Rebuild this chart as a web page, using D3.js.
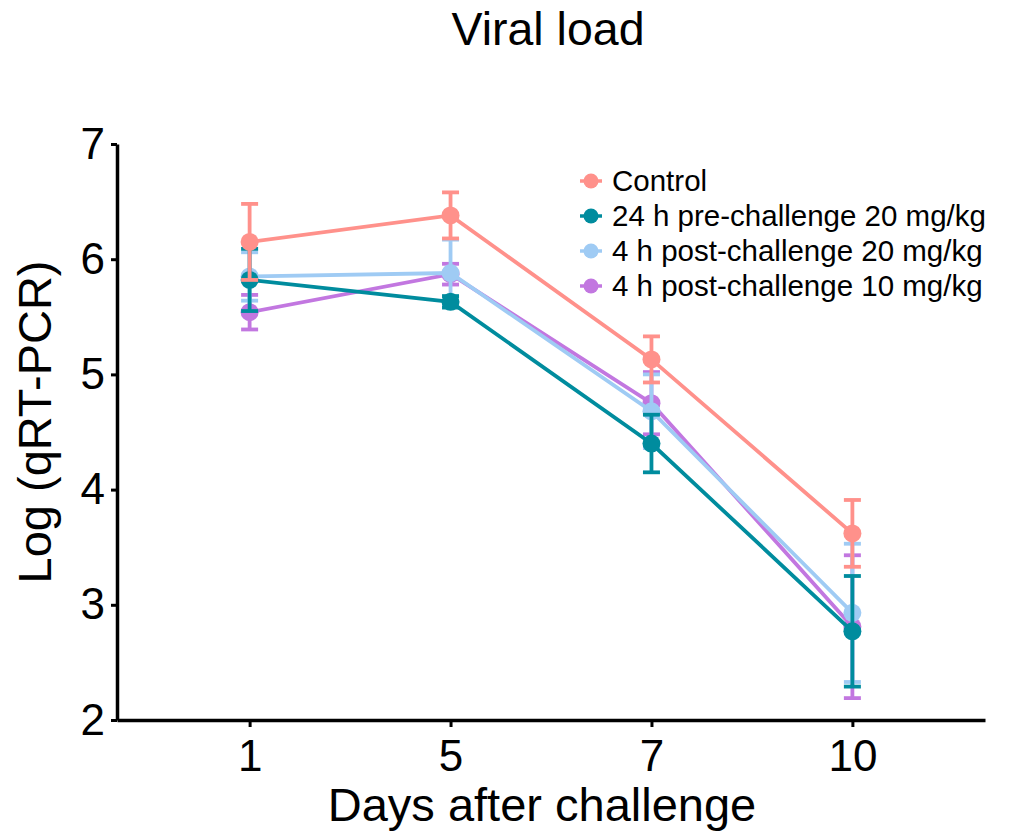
<!DOCTYPE html>
<html>
<head>
<meta charset="utf-8">
<script src="https://cdn.jsdelivr.net/npm/d3@7"></script>
<style>
  body { margin: 0; background: #fff; }
  text { font-family: "Liberation Sans", Arial, Helvetica, sans-serif; fill: #000; }
</style>
</head>
<body>
<script>
// data
const days = ["1", "5", "7", "10"];
const seriesNames = ["Control", "24 h pre-challenge 20 mg/kg", "4 h post-challenge 20 mg/kg", "4 h post-challenge 10 mg/kg"];
const seriesColors = ["#ff918b", "#008c9e", "#9fcbf4", "#c277e0"];
const controlMean = [6.15, 6.38, 5.13, 3.62];
const controlErr = [0.33, 0.2, 0.2, 0.29];
const pre20Mean = [5.82, 5.63, 4.40, 2.77];
const pre20Err = [0.27, 0.05, 0.25, 0.48];
const post20Mean = [5.85, 5.88, 4.68, 2.93];
const post20Err = [0.21, 0.29, 0.32, 0.6];
const post10Mean = [5.54, 5.87, 4.75, 2.81];
const post10Err = [0.15, 0.09, 0.27, 0.62];
const yTicks = [2, 3, 4, 5, 6, 7];

const means = [controlMean, pre20Mean, post20Mean, post10Mean];
const errs = [controlErr, pre20Err, post20Err, post10Err];

const width = 1013, height = 833;
const margin = { left: 117, right: 28, top: 144, bottom: 113 };

let svg = d3.select('body')
  .append('svg')
  .attr('width', width)
  .attr('height', height);

let x = d3.scalePoint()
  .domain(days)
  .range([margin.left, width - margin.right])
  .padding(0.66);

let y = d3.scaleLinear()
  .domain([2, 7])
  .range([height - margin.bottom, margin.top]);

// axes
let xAxis = svg.append('g')
  .attr('transform', 'translate(0,' + (height - margin.bottom) + ')')
  .call(d3.axisBottom(x).tickSize(7).tickSizeOuter(0).tickPadding(13));
xAxis.select('.domain').attr('stroke-width', 3.5);
xAxis.selectAll('.tick line').attr('stroke-width', 3);
xAxis.selectAll('.tick text').style('font-size', '44px');

let yAxis = svg.append('g')
  .attr('transform', 'translate(' + margin.left + ',0)')
  .call(d3.axisLeft(y).tickValues(yTicks).tickFormat(d3.format('d')).tickSize(6).tickSizeOuter(0).tickPadding(6));
yAxis.select('.domain').attr('stroke-width', 3.5);
yAxis.selectAll('.tick line').attr('stroke-width', 3);
yAxis.selectAll('.tick text').style('font-size', '44px');

// series, drawn last-to-first so Control ends up on top
let line = d3.line()
  .x((d, i) => x(days[i]))
  .y(d => y(d));

d3.range(seriesNames.length).reverse().forEach(function (s) {
  let g = svg.append('g');
  let col = seriesColors[s];
  g.append('path')
    .datum(means[s])
    .attr('d', line)
    .attr('fill', 'none')
    .attr('stroke', col)
    .attr('stroke-width', 3.8);

  let pts = means[s].map((m, i) => ({ day: days[i], m: m, e: errs[s][i] }));
  let eb = g.selectAll('.err')
    .data(pts)
    .enter().append('g');
  eb.append('line')
    .attr('x1', d => x(d.day)).attr('x2', d => x(d.day))
    .attr('y1', d => y(d.m + d.e)).attr('y2', d => y(d.m - d.e))
    .attr('stroke', col).attr('stroke-width', 3.8);
  eb.append('line')
    .attr('x1', d => x(d.day) - 8.5).attr('x2', d => x(d.day) + 8.5)
    .attr('y1', d => y(d.m + d.e)).attr('y2', d => y(d.m + d.e))
    .attr('stroke', col).attr('stroke-width', 3.8);
  eb.append('line')
    .attr('x1', d => x(d.day) - 8.5).attr('x2', d => x(d.day) + 8.5)
    .attr('y1', d => y(d.m - d.e)).attr('y2', d => y(d.m - d.e))
    .attr('stroke', col).attr('stroke-width', 3.8);

  g.selectAll('circle')
    .data(pts)
    .enter().append('circle')
    .attr('cx', d => x(d.day))
    .attr('cy', d => y(d.m))
    .attr('r', 9)
    .attr('fill', col);
});

// legend
let legend = svg.append('g')
  .attr('transform', 'translate(591,181)');
let item = legend.selectAll('g')
  .data(seriesNames)
  .enter().append('g')
  .attr('transform', (d, i) => 'translate(0,' + (i * 35) + ')');
item.append('line')
  .attr('x1', -11).attr('x2', 11)
  .attr('stroke', (d, i) => seriesColors[i])
  .attr('stroke-width', 3.5);
item.append('circle')
  .attr('r', 7.5)
  .attr('fill', (d, i) => seriesColors[i]);
item.append('text')
  .attr('x', 21)
  .attr('dy', '0.35em')
  .style('font-size', '29.5px')
  .text(d => d);

// titles
svg.append('text')
  .attr('x', 548).attr('y', 45)
  .attr('text-anchor', 'middle')
  .style('font-size', '46.5px')
  .text('Viral load');

svg.append('text')
  .attr('x', 542).attr('y', 821)
  .attr('text-anchor', 'middle')
  .style('font-size', '47px')
  .text('Days after challenge');

svg.append('text')
  .attr('transform', 'translate(51,422) rotate(-90)')
  .attr('text-anchor', 'middle')
  .style('font-size', '47px')
  .text('Log (qRT-PCR)');
</script>
</body>
</html>
